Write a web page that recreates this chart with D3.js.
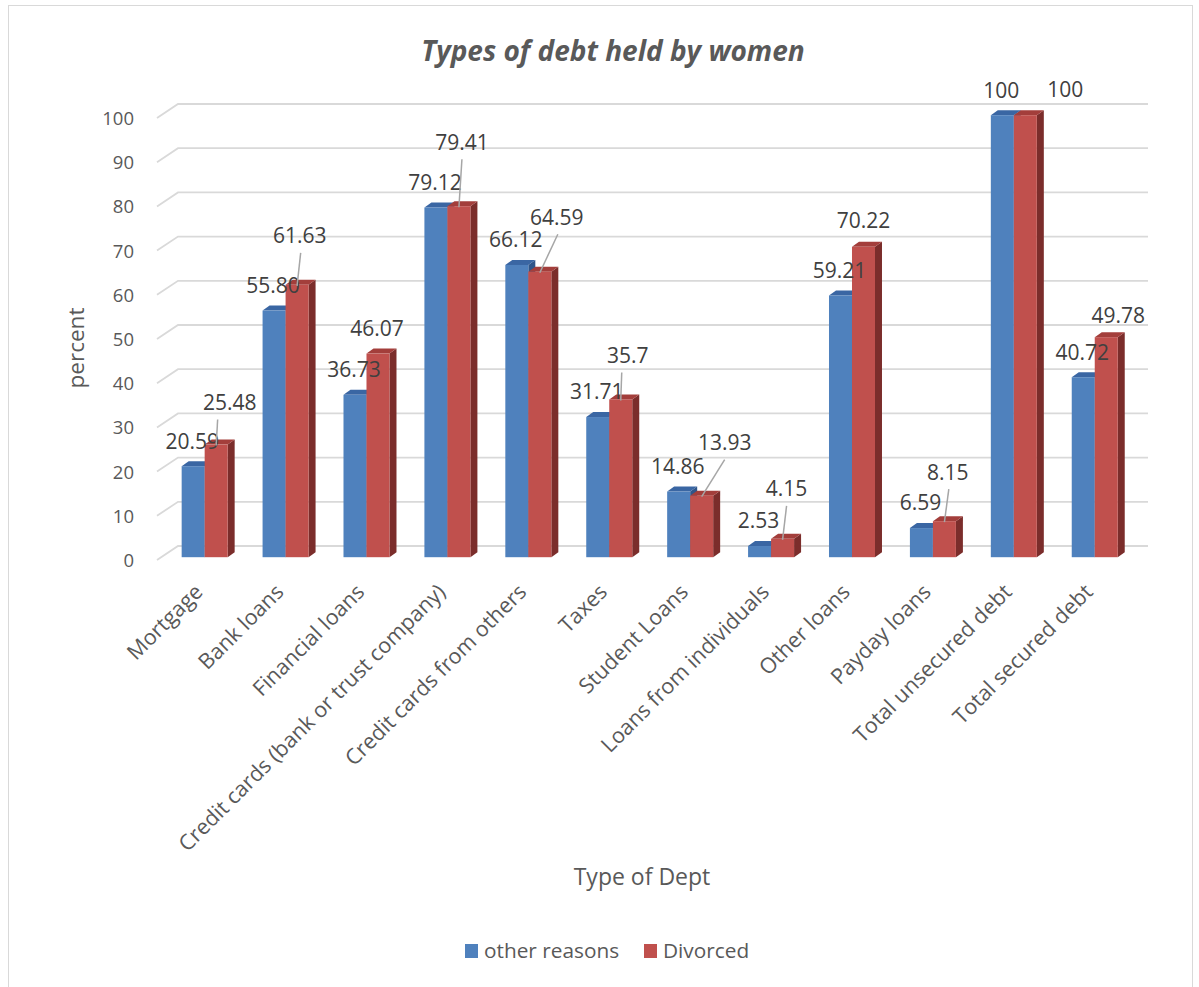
<!DOCTYPE html>
<html><head><meta charset="utf-8">
<script src="https://cdn.jsdelivr.net/npm/d3@7"></script>
<style>body{margin:0;background:#fff}svg{display:block}text{font-family:"Open Sans",sans-serif}</style>
</head><body><svg id="c" width="1199" height="987"></svg>
<script>
const categories = ["Mortgage","Bank loans","Financial loans","Credit cards (bank or trust company)","Credit cards from others","Taxes","Student Loans","Loans from individuals","Other loans","Payday loans","Total unsecured debt","Total secured debt"];
const otherReasons = [20.59,55.80,36.73,79.12,66.12,31.71,14.86,2.53,59.21,6.59,100,40.72];
const divorced = [25.48,61.63,46.07,79.41,64.59,35.7,13.93,4.15,70.22,8.15,100,49.78];
const otherLabels = ["20.59","55.80","36.73","79.12","66.12","31.71","14.86","2.53","59.21","6.59","100","40.72"];
const divorcedLabels = ["25.48","61.63","46.07","79.41","64.59","35.7","13.93","4.15","70.22","8.15","100","49.78"];
const yTicks = [0,10,20,30,40,50,60,70,80,90,100];
const seriesNames = ["other reasons","Divorced"];

// manual label nudges for the "Divorced" labels (px, relative to bar top centre) – layout only
const redNudge = [[13.5,-42],[2.6,-49],[-1,-25],[3,-64],[17,-54.5],[7,-44],[23,-53],[4,-50],[0,-26],[3.4,-49],[40,-26],[12,-22]];
const leaderDx = [-12,1,null,0,1,-6,0,0,null,1,null,null];

const svg = d3.select("#c");
svg.append("rect").attr("x",8.5).attr("y",5.5).attr("width",1184).attr("height",1000).attr("fill","#fff").attr("stroke","#D9D9D9").attr("stroke-width",1);

const depth = {dx:21, dy:-14};
const wallLeft = 157, wallRight = 1127;
const y = d3.scaleLinear().domain([0,100]).range([560,118]);
const x = d3.scaleBand().domain(categories).range([160,1131]).paddingInner(0).paddingOuter(0);
const barW = 23;
const bOff = {dx:4.2, dy:-2.8};
const topOff = {dx:7, dy:-5};

const grid = svg.append("g");
yTicks.forEach(t=>{
  const yy=y(t);
  grid.append("path")
    .attr("d",`M${wallLeft},${yy}L${wallLeft+depth.dx},${yy+depth.dy}L${wallRight+depth.dx},${yy+depth.dy}`)
    .attr("fill","none").attr("stroke","#D9D9D9").attr("stroke-width",1.8);
});

const yAxis = d3.axisLeft(y).tickValues(yTicks).tickSize(0).tickPadding(0);
const ga = svg.append("g").attr("transform","translate(134,0)").call(yAxis);
ga.select(".domain").remove();
ga.selectAll("text").attr("font-family","Open Sans").attr("font-size",18.5).attr("fill","#595959").attr("dy","0.35em");

const colors = [
  {front:"#4F81BD", top:"#3A66A3", side:"#2F5589"},
  {front:"#C0504D", top:"#A33E3B", side:"#7B2D2B"}
];
const series=[otherReasons,divorced];
const bars = svg.append("g");
categories.forEach((c,i)=>{
  series.forEach((s,k)=>{
    const x0 = x(c)+x.bandwidth()/2 - barW + k*barW + bOff.dx;
    const x1 = x0+barW;
    const yt = y(s[i])+bOff.dy;
    const yb = y(0)+bOff.dy;
    const col=colors[k];
    bars.append("path").attr("d",`M${x1},${yt}L${x1+topOff.dx},${yt+topOff.dy}L${x1+topOff.dx},${yb+topOff.dy}L${x1},${yb}Z`).attr("fill",col.side);
    bars.append("path").attr("d",`M${x0},${yt}L${x1},${yt}L${x1+topOff.dx},${yt+topOff.dy}L${x0+topOff.dx},${yt+topOff.dy}Z`).attr("fill",col.top);
    bars.append("rect").attr("x",x0).attr("y",yt).attr("width",barW).attr("height",yb-yt).attr("fill",col.front);
  });
});

const lab = svg.append("g").attr("font-size",21).attr("fill","#404040").attr("text-anchor","middle");
categories.forEach((c,i)=>{
  const bc = x(c)+x.bandwidth()/2 - barW/2 + bOff.dx;
  const rc = x(c)+x.bandwidth()/2 + barW/2 + bOff.dx;
  const bt = y(otherReasons[i])+bOff.dy, rt=y(divorced[i])+bOff.dy;
  const lx = rc+redNudge[i][0], ly = rt+redNudge[i][1];
  if(leaderDx[i]!==null){
    svg.append("line").attr("x1",lx+leaderDx[i]).attr("y1",ly+17).attr("x2",rc).attr("y2",rt+1)
      .attr("stroke","#A6A6A6").attr("stroke-width",1.5);
  }
  lab.append("text").attr("x",bc-1).attr("y",bt-25).attr("dy","0.35em").text(otherLabels[i]);
  lab.append("text").attr("x",lx).attr("y",ly).attr("dy","0.35em").text(divorcedLabels[i]);
});

const xAxis = d3.axisBottom(x).tickSize(0).tickPadding(0);
const gx = svg.append("g").attr("transform",`translate(${bOff.dx-6},0)`).call(xAxis);
gx.select(".domain").remove();
gx.selectAll(".tick text").attr("font-family","Open Sans").attr("font-size",21.5).attr("fill","#595959")
  .attr("text-anchor","end").attr("y",0).attr("dy","0.35em")
  .attr("transform","translate(0,588) rotate(-45)");

svg.append("text").attr("x",613).attr("y",51).attr("text-anchor","middle").attr("dy","0.35em")
  .attr("font-size",28).attr("font-weight","bold").attr("font-style","italic").attr("fill","#595959").text("Types of debt held by women");
svg.append("text").attr("transform","translate(76,348) rotate(-90)").attr("text-anchor","middle").attr("dy","0.35em")
  .attr("font-size",22.5).attr("fill","#595959").text("percent");
svg.append("text").attr("x",642).attr("y",877).attr("text-anchor","middle").attr("dy","0.35em")
  .attr("font-size",23).attr("fill","#595959").text("Type of Dept");

const lg = svg.append("g");
const legX=[465,644];
seriesNames.forEach((n,k)=>{
  lg.append("rect").attr("x",legX[k]).attr("y",944).attr("width",13).attr("height",14).attr("fill",colors[k].front);
  lg.append("text").attr("x",legX[k]+19).attr("y",951).attr("dy","0.35em").attr("font-size",20.8).attr("fill","#595959").text(n);
});
</script></body></html>
